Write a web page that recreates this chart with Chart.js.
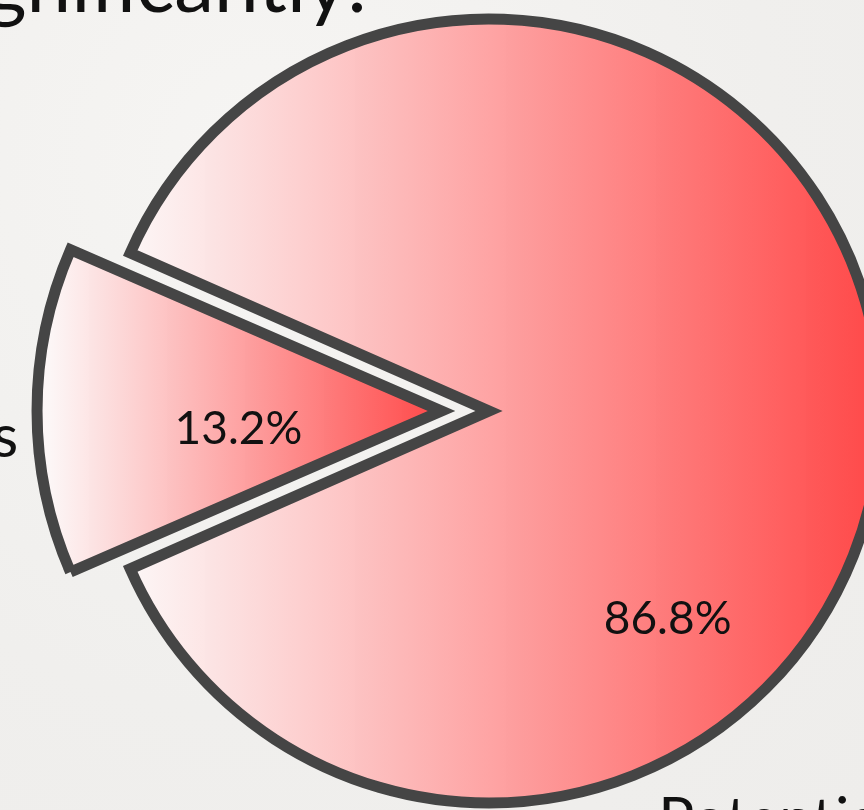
<!DOCTYPE html>
<html>
<head>
<meta charset="utf-8">
<script src="https://cdn.jsdelivr.net/npm/chart.js@4.4.1/dist/chart.umd.min.js"></script>
<style>
  html, body { margin: 0; padding: 0; background: #f2f1ef; }
  #wrap { position: relative; width: 864px; height: 810px; overflow: hidden;
          background: radial-gradient(ellipse at 30% 20%, #f6f5f3 0%, #f0efed 60%, #eeedeb 100%); }
</style>
</head>
<body>
<div id="wrap"><canvas id="pie-chart" width="864" height="810"></canvas></div>
<script>
// ======
// data
// ======
var categories = ['Obstacles', 'Potential realized'];
var shares = [13.2, 86.8];
var pctLabels = ['13.2%', '86.8%'];
var titleText = 'Outcomes improved significantly:';

// styling
var RADIUS = 392;
var ROTATION = 246.25;
var OFFSETS = [190, 0];
var BORDER = '#454545';
var FONT = 'Lato, "Open Sans", sans-serif';

// where the percent text sits: fraction along the slice, fraction of radius
var pctPos = [[0.39, 0.52], [0.658, 0.70]];
// category labels: fraction along slice, fraction of radius, align, y shift
var catPos = [[0.5, 1.08, 'right', 46], [0.714, 1.1, 'left', 32]];

function sliceAngles(i) {
    var total = shares.reduce(function(a, b) { return a + b; }, 0);
    var a = (ROTATION - 90) * Math.PI / 180;
    for (var k = 0; k < i; k++) a += shares[k] / total * Math.PI * 2;
    return [a, a + shares[i] / total * Math.PI * 2];
}

function sliceGradient(c) {
    var chart = c.chart;
    var area = chart.chartArea;
    if (!area || c.dataIndex === undefined) return '#ff8080';
    var cx = (area.left + area.right) / 2;
    var ang = sliceAngles(c.dataIndex);
    var xs = [cx, cx + RADIUS * Math.cos(ang[0]), cx + RADIUS * Math.cos(ang[1])];
    // include left/right extremes if the slice crosses them
    for (var k = -4; k <= 4; k++) {
        var t = k * Math.PI;
        if (t > ang[0] && t < ang[1]) xs.push(cx + RADIUS * Math.cos(t));
    }
    var x0 = Math.min.apply(null, xs), x1 = Math.max.apply(null, xs);
    var g = chart.ctx.createLinearGradient(x0, 0, x1, 0);
    g.addColorStop(0, 'rgba(252,246,246,0.95)');
    g.addColorStop(1, 'rgba(255,66,66,0.97)');
    return g;
}

// text drawn on top of the slices
var textPlugin = {
    id: 'pieText',
    afterDatasetsDraw: function(chart) {
        var ctx = chart.ctx;
        var meta = chart.getDatasetMeta(0);
        ctx.save();
        ctx.fillStyle = '#111';
        meta.data.forEach(function(arc, i) {
            var p = arc.getProps(['x', 'y', 'startAngle', 'endAngle', 'outerRadius'], true);
            var mid = (p.startAngle + p.endAngle) / 2;
            var sh = OFFSETS[i] / 4;
            var ox = p.x + Math.cos(mid) * sh, oy = p.y + Math.sin(mid) * sh;

            var a = p.startAngle + (p.endAngle - p.startAngle) * pctPos[i][0];
            var d = p.outerRadius * pctPos[i][1];
            ctx.font = '46px ' + FONT;
            ctx.textAlign = 'center';
            ctx.textBaseline = 'middle';
            ctx.fillText(pctLabels[i], ox + Math.cos(a) * d, oy + Math.sin(a) * d);

            var b = p.startAngle + (p.endAngle - p.startAngle) * catPos[i][0];
            var e = p.outerRadius * catPos[i][1];
            ctx.font = '60px ' + FONT;
            ctx.textAlign = catPos[i][2];
            ctx.textBaseline = 'alphabetic';
            ctx.fillText(categories[i], ox + Math.cos(b) * e, oy + Math.sin(b) * e + catPos[i][3]);
        });
        // heading, mostly above the visible area
        ctx.font = '80px ' + FONT;
        ctx.textAlign = 'right';
        ctx.textBaseline = 'alphabetic';
        ctx.fillText(titleText, 367, 12);
        ctx.restore();
    }
};

var pieChartElement = document.getElementById('pie-chart');
if (pieChartElement) {
    new Chart(pieChartElement, {
        type: 'pie',
        data: {
            labels: categories,
            datasets: [{
                data: shares,
                backgroundColor: sliceGradient,
                borderColor: BORDER,
                borderWidth: 11,
                borderJoinStyle: 'miter',
                offset: OFFSETS
            }]
        },
        options: {
            responsive: false,
            animation: false,
            radius: RADIUS,
            rotation: ROTATION,
            layout: { padding: { left: 114, top: 12, right: 0, bottom: 0 } },
            plugins: {
                legend: { display: false },
                tooltip: { enabled: false }
            }
        },
        plugins: [textPlugin]
    });
}
</script>
</body>
</html>
